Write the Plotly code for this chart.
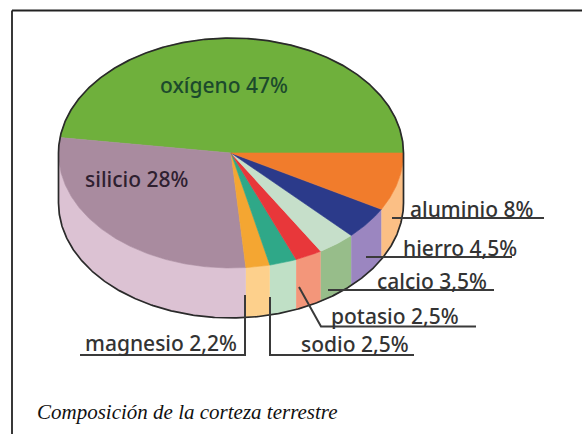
import numpy as np
import plotly.graph_objects as go

names = ["oxígeno", "silicio", "magnesio", "sodio", "potasio", "calcio", "hierro", "aluminio"]
shares = [47, 28, 2.2, 2.5, 2.5, 3.5, 4.5, 8]
share_text = ["47%", "28%", "2,2%", "2,5%", "2,5%", "3,5%", "4,5%", "8%"]
top_colors = ["#6fb03c", "#a98b9f", "#f4a632", "#2fa888", "#e8373a", "#c6dfca", "#2b3a8a", "#f17c2c"]
side_colors = ["#6fb03c", "#dcc2d3", "#fdd08c", "#c0e0c6", "#f3967a", "#97bd8a", "#9b86c0", "#fbbf85"]
caption = "Composición de la corteza terrestre"

CX, CY, RX, RY, DEPTH = 231, 153, 172.5, 115, 50
INK = "#2a2a2a"

fractions = np.array(shares) / sum(shares)
edges = np.concatenate([[0], np.cumsum(fractions) * 360])


def rim(a0, a1, drop=0):
    t = np.radians(np.linspace(a0, a1, max(int(abs(a1 - a0) * 2), 2)))
    return CX + RX * np.cos(t), CY - RY * np.sin(t) + drop


fig = go.Figure()


def poly(x, y, color):
    fig.add_trace(go.Scatter(x=x, y=y, mode="lines", fill="toself", fillcolor=color,
                             line=dict(color=color, width=0.6), hoverinfo="skip", showlegend=False))


for i in range(len(shares)):
    a0, a1 = max(edges[i], 180), edges[i + 1]
    if a1 <= a0:
        continue
    xt, yt = rim(a0, a1)
    xb, yb = rim(a1, a0, DEPTH)
    poly(np.concatenate([xt, xb]), np.concatenate([yt, yb]), side_colors[i])

for i in range(len(shares)):
    xt, yt = rim(edges[i], edges[i + 1])
    poly(np.concatenate([[CX], xt, [CX]]), np.concatenate([[CY], yt, [CY]]), top_colors[i])


def line(x, y, width=1.5, color=INK):
    fig.add_trace(go.Scatter(x=x, y=y, mode="lines", line=dict(color=color, width=width),
                             hoverinfo="skip", showlegend=False))


xu, yu = rim(0, 180)
xl, yl = rim(180, 360, DEPTH)
line(np.concatenate([xu, xl]), np.concatenate([yu, yl]), 1.7)
line([CX + RX, CX + RX], [CY, CY + DEPTH], 1.7)

# frame (top and left rules only)
line([12, 12], [434, 10.5], 1.8, "#222222")
line([12, 582], [10.5, 10.5], 1.8, "#222222")

leaders = [
    ([392, 544], [218, 218]),
    ([366, 512], [257, 257]),
    ([328, 494], [290, 290]),
    ([299, 321, 476], [287, 326.5, 326.5]),
    ([270, 270, 414], [297, 355, 355]),
    ([245, 245, 80], [295, 355, 355]),
]
for lx, ly in leaders:
    line(lx, ly, 2, "#3a3a3a")

label_pos = {0: (160, 85), 1: (85, 179), 2: (85, 343), 3: (301, 344),
             4: (331, 316), 5: (377, 281), 6: (403, 248), 7: (410, 209)}
label_col = {0: "#1c4a2c", 1: "#2e2030"}
annotations = []
for i, (x, y) in label_pos.items():
    annotations.append(dict(x=x, y=y, xref="x", yref="y", xanchor="left", yanchor="middle", xshift=-2,
                            text=f"{names[i]} {share_text[i]}", showarrow=False,
                            font=dict(family="Noto Sans", size=21, weight=500,
                                      color=label_col.get(i, "#333333"))))
annotations.append(dict(x=37, y=412, xref="x", yref="y", xanchor="left", yanchor="middle", xshift=-2,
                        text=f"<i>{caption}</i>", showarrow=False,
                        font=dict(family="Liberation Serif", size=21, color="#111111")))

fig.update_layout(
    width=582, height=434, margin=dict(l=0, r=0, t=0, b=0),
    paper_bgcolor="white", plot_bgcolor="white", showlegend=False,
    xaxis=dict(range=[0, 582], visible=False, fixedrange=True),
    yaxis=dict(range=[434, 0], visible=False, fixedrange=True),
    annotations=annotations,
)
fig.write_html("out.html", config=dict(displayModeBar=False),
               post_script="document.body.style.margin='0';")
